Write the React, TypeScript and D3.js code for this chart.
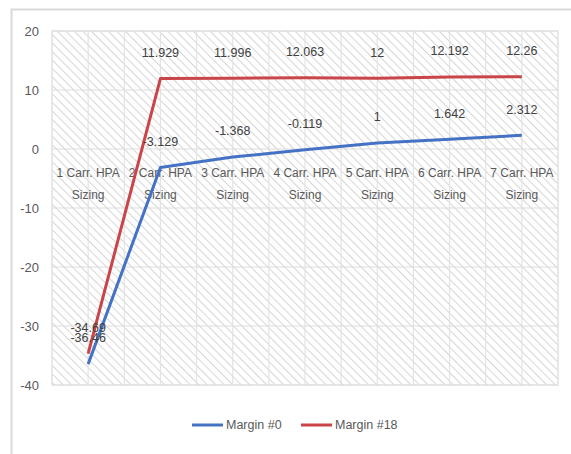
import React from "react";
import * as d3 from "d3";

const categories = [
  "1 Carr. HPA Sizing",
  "2 Carr. HPA Sizing",
  "3 Carr. HPA Sizing",
  "4 Carr. HPA Sizing",
  "5 Carr. HPA Sizing",
  "6 Carr. HPA Sizing",
  "7 Carr. HPA Sizing",
];
const margin0 = [-36.46, -3.129, -1.368, -0.119, 1, 1.642, 2.312];
const margin18 = [-34.69, 11.929, 11.996, 12.063, 12, 12.192, 12.26];
const labels0 = ["-36.46", "-3.129", "-1.368", "-0.119", "1", "1.642", "2.312"];
const labels18 = ["-34.69", "11.929", "11.996", "12.063", "12", "12.192", "12.26"];
const yTicks = [20, 10, 0, -10, -20, -30, -40];
const seriesNames = ["Margin #0", "Margin #18"];

const W = 571;
const H = 454;
const plot = { left: 52, right: 558, top: 31, bottom: 385 };
const FONT = "'Liberation Sans', Arial, sans-serif";
const TEXT = "#595959";
const BLUE = "#4472C4";
const RED = "#C9454A";

export default function App() {
  const x = d3
    .scaleBand<number>()
    .domain(d3.range(categories.length))
    .range([plot.left, plot.right]);
  const y = d3.scaleLinear().domain([-40, 20]).range([plot.bottom, plot.top]);
  const cx = (i: number) => (x(i) as number) + x.bandwidth() / 2;
  const line = d3
    .line<number>()
    .x((_, i) => cx(i))
    .y((d) => y(d));

  const vLines: number[] = [];
  for (let i = 0; i <= categories.length * 2; i++) {
    vLines.push(plot.left + (i * x.bandwidth()) / 2);
  }

  const series = [
    { name: seriesNames[0], values: margin0, labels: labels0, color: BLUE },
    { name: seriesNames[1], values: margin18, labels: labels18, color: RED },
  ];

  return (
    <svg
      width={W}
      height={H}
      style={{ position: "absolute", left: 0, top: 0, display: "block" }}
    >
      <defs>
        <pattern
          id="hatch"
          patternUnits="userSpaceOnUse"
          width="6"
          height="6"
          patternTransform="rotate(-45)"
        >
          <rect width="6" height="6" fill="#ffffff" />
          <line x1="0" y1="0" x2="0" y2="6" stroke="#d6d6d6" strokeWidth="2" />
        </pattern>
      </defs>
      <rect x={0} y={0} width={W} height={H} fill="#ffffff" />
      <rect
        x={11.5}
        y={9.5}
        width={W + 10}
        height={H + 10}
        fill="#ffffff"
        stroke="#d9d9d9"
        strokeWidth={2}
      />
      <rect
        x={plot.left}
        y={plot.top}
        width={plot.right - plot.left}
        height={plot.bottom - plot.top}
        fill="url(#hatch)"
        stroke="#e0e0e0"
        strokeWidth={1}
      />
      {vLines.map((vx, i) => (
        <line
          key={"v" + i}
          x1={vx}
          x2={vx}
          y1={plot.top}
          y2={plot.bottom}
          stroke="#e3e3e3"
          strokeWidth={1.2}
        />
      ))}
      {yTicks.map((t) => (
        <line
          key={"h" + t}
          x1={plot.left}
          x2={plot.right}
          y1={y(t)}
          y2={y(t)}
          stroke="#dcdcdc"
          strokeWidth={1.2}
        />
      ))}
      {yTicks.map((t) => (
        <text
          key={"yt" + t}
          x={39}
          y={y(t)}
          dy="0.35em"
          textAnchor="end"
          fontFamily={FONT}
          fontSize={13}
          fill={TEXT}
        >
          {t}
        </text>
      ))}
      {categories.map((c, i) => {
        const parts = c.split(" Sizing");
        return (
          <text
            key={"c" + i}
            x={cx(i)}
            textAnchor="middle"
            fontFamily={FONT}
            fontSize={12}
            fill={TEXT}
          >
            <tspan x={cx(i)} y={177}>
              {parts[0]}
            </tspan>
            <tspan x={cx(i)} y={199}>
              Sizing
            </tspan>
          </text>
        );
      })}
      {series.map((s) => (
        <path
          key={s.name}
          d={line(s.values) || ""}
          fill="none"
          stroke={s.color}
          strokeWidth={3}
          strokeLinejoin="round"
        />
      ))}
      {series.map((s) =>
        s.values.map((v, i) => (
          <text
            key={s.name + i}
            x={cx(i)}
            y={y(v) - 26}
            dy="0.35em"
            textAnchor="middle"
            fontFamily={FONT}
            fontSize={12.5}
            fill="#404040"
          >
            {s.labels[i]}
          </text>
        ))
      )}
      {series.map((s, k) => {
        const lx = k === 0 ? 192 : 301;
        return (
          <g key={"lg" + k}>
            <line
              x1={lx}
              x2={lx + 31}
              y1={425}
              y2={425}
              stroke={s.color}
              strokeWidth={3}
            />
            <text
              x={lx + 34}
              y={425}
              dy="0.35em"
              fontFamily={FONT}
              fontSize={12.5}
              fill={TEXT}
            >
              {s.name}
            </text>
          </g>
        );
      })}
    </svg>
  );
}
